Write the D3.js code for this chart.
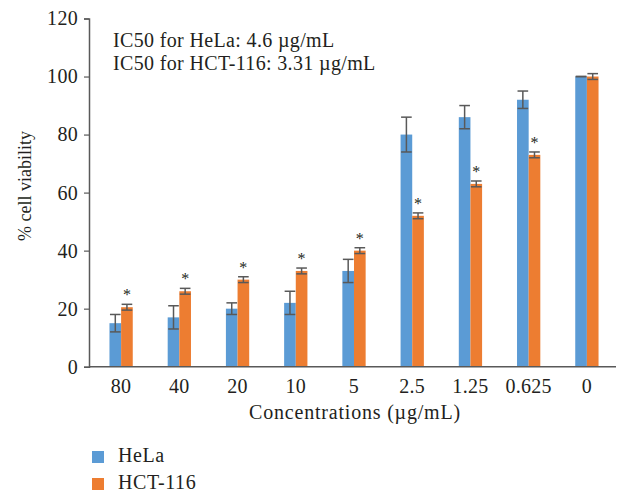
<!DOCTYPE html>
<html>
<head>
<meta charset="utf-8">
<script src="https://cdn.jsdelivr.net/npm/d3@7"></script>
<style>
  html, body { margin: 0; padding: 0; background: #fff; }
  svg { display: block; }
  text { font-family: "Liberation Serif", "DejaVu Serif", serif; fill: #231f20; }
</style>
</head>
<body>
<svg id="chart" width="617" height="491"></svg>
<script>
// Concentrations (µg/mL) on the x axis
const categories = ["80", "40", "20", "10", "5", "2.5", "1.25", "0.625", "0"];
// Mean % cell viability and standard deviation per cell line
const helaValues = [15, 17, 20, 22, 33, 80, 86, 92, 100];
const helaErrors = [3, 4, 2, 4, 4, 6, 4, 3, 0];
const hctValues = [20.5, 26, 30, 33, 40, 52, 63, 73, 100];
const hctErrors = [1, 1, 1, 1, 1, 1, 1, 1, 1];
// Significance markers on HCT-116 bars
const hctSignificant = [true, true, true, true, true, true, true, true, false];
const seriesNames = ["HeLa", "HCT-116"];
const yTicks = [0, 20, 40, 60, 80, 100, 120];
const notes = ["IC50 for HeLa: 4.6 \u00b5g/mL", "IC50 for HCT-116: 3.31 \u00b5g/mL"];

const colors = { "HeLa": "#5b9bd5", "HCT-116": "#ed7d31" };
const axisColor = "#595959";
const errColor = "#595959";
const fontStack = "'Liberation Serif', serif";

const svg = d3.select("#chart");
const plot = { left: 89, right: 616, top: 18.5, bottom: 366.7 };

const x0 = d3.scaleBand().domain(categories).range([92, 616]).paddingInner(0.6).paddingOuter(0.3);
const x1 = d3.scaleBand().domain(seriesNames).range([0, x0.bandwidth()]);
const y = d3.scaleLinear().domain([0, 120]).range([plot.bottom, plot.top]);

const rows = categories.map((c, i) => ({
  cat: c,
  bars: [
    { name: "HeLa", value: helaValues[i], err: helaErrors[i], star: false },
    { name: "HCT-116", value: hctValues[i], err: hctErrors[i], star: hctSignificant[i] }
  ]
}));

// Y axis
const yAxis = d3.axisLeft(y).tickValues(yTicks).tickSize(5).tickPadding(6);
const gy = svg.append("g").attr("transform", `translate(${plot.left},0)`).call(yAxis);
gy.select(".domain").attr("stroke", axisColor).attr("stroke-width", 1.5);
gy.selectAll(".tick line").attr("stroke", axisColor).attr("stroke-width", 1.2);
gy.selectAll(".tick text").attr("font-size", 20).attr("fill", "#231f20")
  .style("font-family", fontStack).style("letter-spacing", "0.3px");

// Bars
const groups = svg.append("g").selectAll("g").data(rows).join("g")
  .attr("transform", d => `translate(${x0(d.cat)},0)`);

groups.selectAll("rect").data(d => d.bars).join("rect")
  .attr("x", d => x1(d.name))
  .attr("y", d => y(d.value))
  .attr("width", x1.bandwidth())
  .attr("height", d => y(0) - y(d.value))
  .attr("fill", d => colors[d.name]);

// Error bars
const eb = groups.selectAll("g.err").data(d => d.bars).join("g").attr("class", "err");
const capW = x1.bandwidth() - 1;
const cx = d => x1(d.name) + x1.bandwidth() / 2;
eb.append("line")
  .attr("x1", cx).attr("x2", cx)
  .attr("y1", d => y(d.value + d.err))
  .attr("y2", d => y(d.value - d.err))
  .attr("stroke", errColor).attr("stroke-width", 1.5);
eb.append("line")
  .attr("x1", d => cx(d) - capW / 2).attr("x2", d => cx(d) + capW / 2)
  .attr("y1", d => y(d.value + d.err)).attr("y2", d => y(d.value + d.err))
  .attr("stroke", errColor).attr("stroke-width", 1.5);
eb.append("line")
  .attr("x1", d => cx(d) - capW / 2).attr("x2", d => cx(d) + capW / 2)
  .attr("y1", d => y(d.value - d.err)).attr("y2", d => y(d.value - d.err))
  .attr("stroke", errColor).attr("stroke-width", 1.5);

// Significance asterisks
groups.selectAll("text.star").data(d => d.bars.filter(b => b.star)).join("text")
  .attr("class", "star")
  .attr("x", cx)
  .attr("y", d => y(d.value + d.err) - 4)
  .attr("text-anchor", "middle")
  .attr("font-size", 16)
  .text("*");

// X axis
const xAxis = d3.axisBottom(x0).tickSize(0).tickPadding(12);
const gx = svg.append("g").attr("transform", `translate(0,${plot.bottom})`).call(xAxis);
gx.select(".domain").remove();
gx.append("line").attr("x1", plot.left).attr("x2", plot.right).attr("y1", 0).attr("y2", 0)
  .attr("stroke", axisColor).attr("stroke-width", 1.5);
gx.selectAll(".tick text").attr("font-size", 20).attr("fill", "#231f20")
  .style("font-family", fontStack).style("letter-spacing", "0.3px");

// Axis titles
svg.append("text")
  .attr("x", 355).attr("y", 419)
  .attr("text-anchor", "middle").attr("font-size", 20)
  .style("letter-spacing", "0.8px")
  .text("Concentrations (\u00b5g/mL)");
svg.append("text")
  .attr("transform", "translate(31,186) rotate(-90)")
  .attr("text-anchor", "middle").attr("font-size", 18)
  .text("% cell viability");

// IC50 annotations
svg.selectAll("text.note").data(notes).join("text")
  .attr("class", "note")
  .attr("x", 113).attr("y", (d, i) => 47 + i * 23.3)
  .attr("font-size", 20)
  .style("letter-spacing", "0.35px")
  .text(d => d);

// Legend
const legend = svg.append("g").selectAll("g").data(seriesNames).join("g")
  .attr("transform", (d, i) => `translate(92,${451 + i * 27})`);
legend.append("rect").attr("width", 12).attr("height", 12).attr("fill", d => colors[d]);
legend.append("text").attr("x", 26).attr("y", 10.5).attr("font-size", 20)
  .style("letter-spacing", "0.6px").text(d => d);
</script>
</body>
</html>
